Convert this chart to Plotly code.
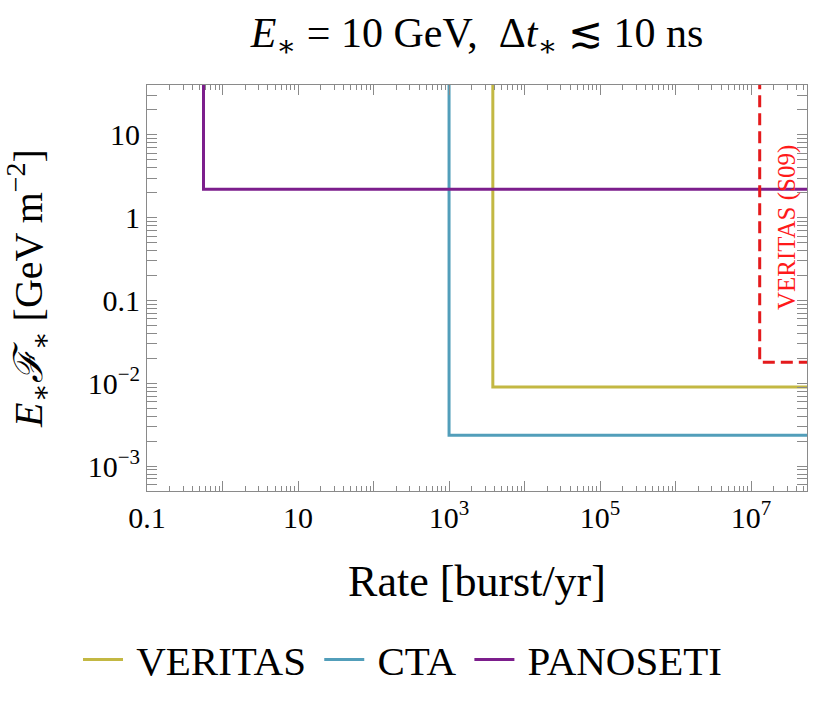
import plotly.graph_objects as go
import numpy as np

# Data
series_names = ["VERITAS", "CTA", "PANOSETI"]
rate_thresholds = [3800, 1000, 0.56]        # burst/yr where sensitivity starts
flux_limits = [0.009, 0.00235, 2.2]         # GeV m^-2
series_colors = ["#C3B843", "#529EBA", "#7C1E8C"]

s09_rate = 1.3e7
s09_flux = 0.018
s09_label = "VERITAS (S09)"

x_range = [0.1, 5.5e7]
y_range = [5e-4, 40]
x_far = 1e9
y_far = 1e3

x_labels_major = ["0.1", "10", "10<sup>3</sup>", "10<sup>5</sup>", "10<sup>7</sup>"]
x_labels_vals = [0.1, 10, 1e3, 1e5, 1e7]
x_unlabelled_major = [1, 100, 1e4, 1e6]
y_tickvals = [1e-3, 1e-2, 0.1, 1, 10]
y_ticktext = ["10<sup>−3</sup>", "10<sup>−2</sup>", "0.1", "1", "10"]

font_family = "Liberation Serif, DejaVu Serif, serif"
axis_grey = "#8a8a8a"


def minor_vals(lo_exp, hi_exp):
    return [m * 10.0 ** e for e in range(lo_exp, hi_exp + 1) for m in range(2, 10)]


fig = go.Figure()
for name, xr, fl, col in zip(series_names, rate_thresholds, flux_limits, series_colors):
    fig.add_trace(go.Scatter(
        x=[xr, xr, x_far], y=[y_far, fl, fl], mode="lines",
        name="\u2009" + name + "\u2009",
        line=dict(color=col, width=3)))

fig.add_trace(go.Scatter(
    x=[s09_rate, s09_rate, x_far], y=[y_far, s09_flux, s09_flux], mode="lines",
    name=s09_label, showlegend=False,
    line=dict(color="#E41A1C", width=3, dash="12px,6px")))

fig.add_annotation(x=np.log10(3.0e7), y=np.log10(0.75), xref="x", yref="y",
                   text=s09_label, textangle=-90, showarrow=False,
                   font=dict(color="#FF1A1A", size=25, family=font_family))

axis_common = dict(
    type="log", showgrid=False, zeroline=False, showline=True,
    linecolor=axis_grey, linewidth=1, mirror="allticks",
    ticks="inside", ticklen=10, tickcolor=axis_grey, tickwidth=1,
    tickfont=dict(size=30, color="black", family=font_family),
)

xr_log = [np.log10(x_range[0]), np.log10(x_range[1])]
yr_log = [np.log10(y_range[0]), np.log10(y_range[1])]

fig.update_layout(
    xaxis=dict(**axis_common, range=xr_log, tickmode="array",
               tickvals=x_labels_vals, ticktext=x_labels_major,
               minor=dict(ticks="inside", ticklen=5, tickcolor=axis_grey, tickwidth=1,
                          tickmode="array", tickvals=minor_vals(-1, 7), showgrid=False),
               title=dict(text="Rate [burst/yr]",
                          font=dict(size=44, family=font_family, color="black"), standoff=32)),
    xaxis2=dict(type="log", range=xr_log, overlaying="x", anchor="y", side="bottom",
                showgrid=False, zeroline=False, showline=False, mirror="allticks",
                ticks="inside", ticklen=10, tickcolor=axis_grey, tickwidth=1,
                tickmode="array", tickvals=x_unlabelled_major, showticklabels=False),
    yaxis=dict(**axis_common, range=yr_log, tickmode="array",
               tickvals=y_tickvals, ticktext=y_ticktext,
               minor=dict(ticks="inside", ticklen=5, tickcolor=axis_grey, tickwidth=1,
                          tickmode="array", tickvals=minor_vals(-4, 1), showgrid=False),
               title=dict(text="<i>E</i><sub>∗</sub><i>ℱ</i><sub>∗</sub> [GeV m<sup>−2</sup>]",
                          font=dict(size=40, family=font_family, color="black"), standoff=35)),
    width=814, height=711,
    margin=dict(l=147, r=7, t=85, b=220),
    paper_bgcolor="white", plot_bgcolor="white",
    title=dict(text="<i>E</i><sub>∗</sub> = 10 GeV,  Δ<i>t</i><sub>∗</sub> ≲ 10 ns",
               x=0.5, xref="paper", xanchor="center", y=0.955, yanchor="middle",
               font=dict(size=42, family=font_family, color="black")),
    legend=dict(orientation="h", x=0.5, xanchor="center", xref="container",
                y=0.072, yanchor="middle", yref="container",
                font=dict(size=41, family=font_family, color="black"),
                itemwidth=40, traceorder="normal"),
    showlegend=True,
)

# invisible helper trace that activates the overlay axis carrying the unlabelled decade ticks
fig.add_trace(go.Scatter(x=[x_range[0]], y=[y_range[0]], xaxis="x2", mode="markers",
                         marker=dict(opacity=0), showlegend=False, hoverinfo="skip"))

fig.write_html("out.html", config={"displayModeBar": False},
               post_script="document.body.style.margin='0';")
